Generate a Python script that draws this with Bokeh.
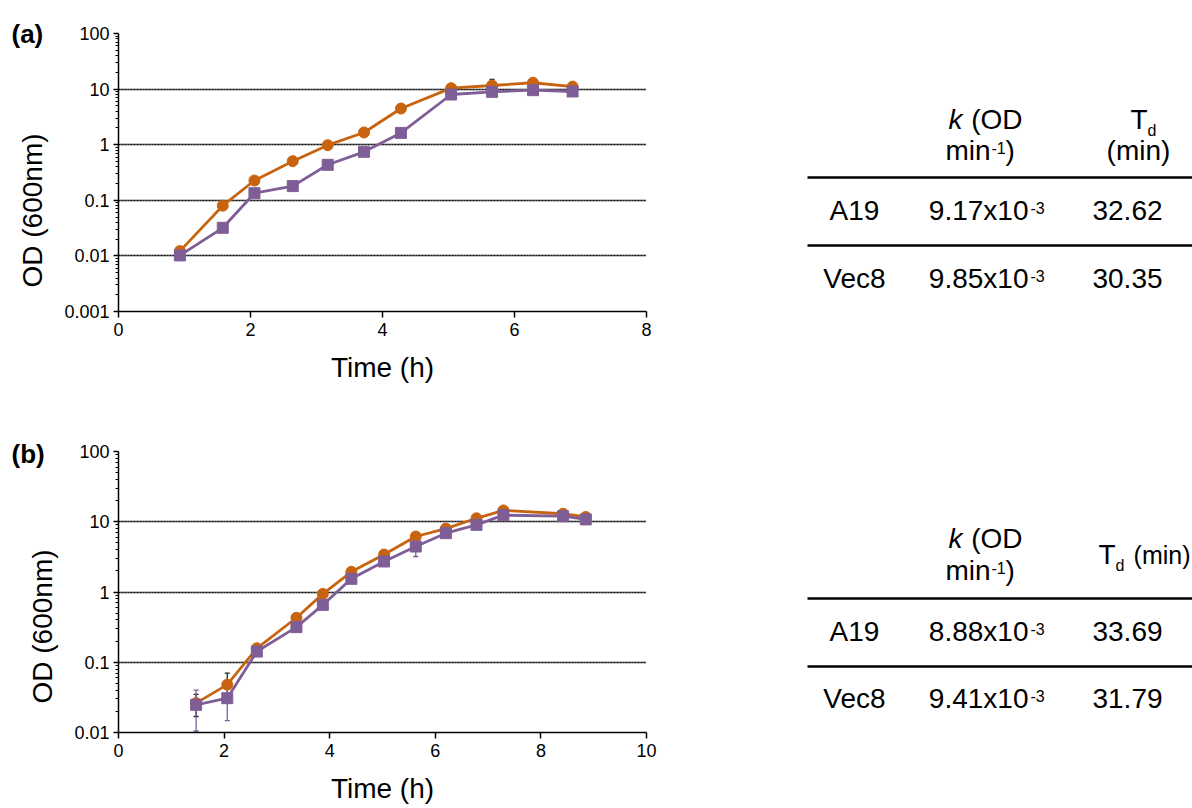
import numpy as np
from bokeh.plotting import figure
from bokeh.models import (FixedTicker, CustomJSTickFormatter, Range1d, Title,
                          ColumnDataSource, Whisker, TeeHead, Grid)
from bokeh.layouts import column, row
from bokeh.embed import file_html
from bokeh.resources import INLINE
from bokeh.core.properties import value

# ---------------- data ----------------
time_a = [0.93, 1.58, 2.06, 2.64, 3.17, 3.72, 4.28, 5.04, 5.66, 6.28, 6.88]
a19_a = [0.0122, 0.080, 0.227, 0.506, 0.98, 1.66, 4.48, 10.4, 11.6, 13.0, 11.1]
a19_a_lo = [0.0122, 0.080, 0.227, 0.506, 0.98, 1.66, 4.48, 10.4, 11.6, 13.0, 11.1]
a19_a_hi = [0.0122, 0.080, 0.227, 0.506, 0.98, 1.66, 4.48, 10.4, 15.0, 13.0, 11.1]
vec8_a = [0.0102, 0.032, 0.134, 0.18, 0.435, 0.745, 1.63, 8.0, 8.93, 9.57, 9.06]
vec8_a_lo = [0.0102, 0.032, 0.134, 0.18, 0.435, 0.66, 1.63, 8.0, 8.93, 9.57, 9.06]
vec8_a_hi = [0.0102, 0.032, 0.134, 0.18, 0.435, 0.84, 1.63, 8.0, 8.93, 9.57, 9.06]

time_b = [1.47, 2.06, 2.62, 3.37, 3.87, 4.41, 5.03, 5.63, 6.20, 6.78, 7.29, 8.42, 8.85]
a19_b = [0.0262, 0.048, 0.158, 0.43, 0.94, 1.94, 3.42, 6.17, 8.0, 11.2, 14.5, 13.0, 11.7]
a19_b_lo = [0.0169, 0.036, 0.158, 0.43, 0.94, 1.94, 3.42, 6.17, 8.0, 11.2, 14.5, 13.0, 11.7]
a19_b_hi = [0.035, 0.070, 0.158, 0.43, 0.94, 1.94, 3.42, 6.17, 8.0, 11.2, 14.5, 13.0, 11.7]
vec8_b = [0.0248, 0.0308, 0.142, 0.316, 0.656, 1.54, 2.72, 4.44, 6.88, 9.04, 12.4, 12.0, 10.8]
vec8_b_lo = [0.0105, 0.0148, 0.142, 0.28, 0.58, 1.54, 2.72, 3.2, 6.2, 8.2, 12.4, 12.0, 10.8]
vec8_b_hi = [0.040, 0.045, 0.142, 0.35, 0.74, 1.54, 2.72, 5.8, 7.6, 9.9, 12.4, 12.0, 10.8]

x_ticks_a = [0, 2, 4, 6, 8]
x_ticks_b = [0, 2, 4, 6, 8, 10]
y_ticks_a = [0.001, 0.01, 0.1, 1, 10, 100]
y_ticks_b = [0.01, 0.1, 1, 10, 100]

strains = ["A19", "Vec8"]
k_a = ["9.17x10", "9.85x10"]
td_a = ["32.62", "30.35"]
k_b = ["8.88x10", "9.41x10"]
td_b = ["33.69", "31.79"]
k_exp = "-3"

ORANGE = "#C8640F"
PURPLE = "#7F5E97"
FONT = "Liberation Sans"

FRAME_L, FRAME_R = 118, 646   # page x of plot frames
PANEL_W = 798
TOTAL_W = 1192


def minor_ticks(decades):
    out = []
    for d in decades[:-1]:
        for m in range(2, 10):
            out.append(round(d * m, 6))
    return out


def make_panel(t, s1, s1lo, s1hi, s2, s2lo, s2hi, xticks, yticks, height,
               top, bottom, tag, tag_standoff, ylab_offset):
    p = figure(width=PANEL_W, height=height, x_range=Range1d(0, xticks[-1]),
               y_range=Range1d(yticks[0], yticks[-1]), y_axis_type="log",
               output_backend="svg", toolbar_location=None,
               min_border_left=FRAME_L, min_border_right=PANEL_W - FRAME_R,
               min_border_top=top, min_border_bottom=bottom)
    p.outline_line_color = None
    p.background_fill_color = "white"
    p.border_fill_color = "white"
    p.xgrid.visible = False
    p.ygrid.ticker = FixedTicker(ticks=yticks)
    p.ygrid.grid_line_color = "#8c8c8c"
    p.ygrid.grid_line_width = 2
    g2 = Grid(dimension=1, ticker=FixedTicker(ticks=yticks),
              grid_line_color="#111111", grid_line_dash="2 1", grid_line_width=1)
    p.add_layout(g2)

    # panel tag as a left-aligned title pulled left and down
    p.title.text = tag
    p.title.align = "left"
    p.title.offset = 11 - FRAME_L
    p.title.standoff = tag_standoff
    p.title.vertical_align = "bottom"
    p.title.text_font = FONT
    p.title.text_font_size = "26px"
    p.title.text_font_style = "bold"
    p.title.text_color = "black"

    # axes
    p.xaxis.ticker = FixedTicker(ticks=xticks, minor_ticks=[])
    p.xaxis.major_tick_out = 6
    p.xaxis.major_tick_in = 0
    p.xaxis.minor_tick_out = 0
    p.xaxis.major_label_standoff = 5
    p.xaxis.axis_label = "Time (h)"
    p.xaxis.axis_label_text_font = FONT
    p.xaxis.axis_label_text_font_size = "28px"
    p.xaxis.axis_label_text_font_style = "normal"
    p.xaxis.axis_label_text_color = "black"
    p.xaxis.axis_label_standoff = 13

    p.yaxis.ticker = FixedTicker(ticks=yticks, minor_ticks=minor_ticks(yticks))
    p.yaxis.formatter = CustomJSTickFormatter(code="return tick.toString();")
    p.yaxis.major_tick_out = 5
    p.yaxis.major_tick_in = 0
    p.yaxis.minor_tick_out = 3
    p.yaxis.minor_tick_in = 0
    p.yaxis.major_label_standoff = 4

    for ax in (p.xaxis, p.yaxis):
        ax.major_label_text_font = FONT
        ax.major_label_text_font_size = "18px"
        ax.major_label_text_color = "black"
        ax.axis_line_color = "black"
        ax.axis_line_width = 1.5
        ax.major_tick_line_color = "black"
        ax.major_tick_line_width = 1.5
        ax.minor_tick_line_color = "black"

    # y label: a title on the left side, shifted down like the reference
    ylab = Title(text="OD (600nm)", align="left", offset=ylab_offset,
                 vertical_align="middle", standoff=26, text_font=FONT,
                 text_font_size="28px", text_font_style="normal", text_color="black")
    p.add_layout(ylab, "left")

    # series 1 (orange, circles)
    p.line(t, s1, line_color=ORANGE, line_width=2.8)
    p.scatter(t, s1, marker="circle", size=11, fill_color=ORANGE, line_color=ORANGE)
    src1 = ColumnDataSource(dict(x=t, lo=s1lo, hi=s1hi))
    p.add_layout(Whisker(base="x", lower="lo", upper="hi", source=src1,
                         line_color="#222222", line_width=1.3,
                         upper_head=TeeHead(size=5, line_color="#222222", line_width=1.3),
                         lower_head=TeeHead(size=5, line_color="#222222", line_width=1.3)))
    # series 2 (purple, squares)
    p.line(t, s2, line_color=PURPLE, line_width=2.8)
    p.scatter(t, s2, marker="square", size=11, fill_color=PURPLE, line_color=PURPLE)
    src2 = ColumnDataSource(dict(x=t, lo=s2lo, hi=s2hi))
    p.add_layout(Whisker(base="x", lower="lo", upper="hi", source=src2,
                         line_color=PURPLE, line_width=1.3,
                         upper_head=TeeHead(size=5, line_color=PURPLE, line_width=1.3),
                         lower_head=TeeHead(size=5, line_color=PURPLE, line_width=1.3)))
    return p


def make_table(frame_top, frame_bot, height, top, bottom, header_rows, row_y, line_y,
               k_vals, td_vals, td_single_line):
    t = figure(width=TOTAL_W - PANEL_W, height=height,
               x_range=Range1d(PANEL_W, TOTAL_W),
               y_range=Range1d(frame_bot, frame_top), output_backend="svg",
               toolbar_location=None, min_border_left=0, min_border_right=0,
               min_border_top=top, min_border_bottom=bottom,
               x_axis_location=None, y_axis_location=None)
    t.xgrid.visible = False
    t.ygrid.visible = False
    t.outline_line_color = None
    f = value(FONT)
    fs = "28px"
    h1, h2 = header_rows
    # header: k (OD / min^-1)
    t.text(x=[948], y=[h1], text=["k"], text_font=f, text_font_size=fs,
           text_font_style="italic", text_align="left", text_baseline="middle")
    t.text(x=[1022], y=[h1], text=["(OD"], text_font=f, text_font_size=fs,
           text_align="right", text_baseline="middle")
    t.text(x=[990], y=[h2], text=["min"], text_font=f, text_font_size=fs,
           text_align="right", text_baseline="middle")
    t.text(x=[991], y=[h2 - 3], text=["-1"], text_font=f, text_font_size="16px",
           text_align="left", text_baseline="alphabetic")
    t.text(x=[1005], y=[h2], text=[")"], text_font=f, text_font_size=fs,
           text_align="left", text_baseline="middle")
    # header: Td
    if td_single_line:
        ty = (h1 + h2) / 2
        t.text(x=[1115], y=[ty], text=["T"], text_font=f, text_font_size=fs,
               text_align="right", text_baseline="middle")
        t.text(x=[1115], y=[ty + 11], text=["d"], text_font=f, text_font_size="16px",
               text_align="left", text_baseline="alphabetic")
        t.text(x=[1190], y=[ty], text=["(min)"], text_font=f, text_font_size="25px",
               text_align="right", text_baseline="middle")
    else:
        t.text(x=[1147], y=[h1], text=["T"], text_font=f, text_font_size=fs,
               text_align="right", text_baseline="middle")
        t.text(x=[1147], y=[h1 + 11], text=["d"], text_font=f, text_font_size="16px",
               text_align="left", text_baseline="alphabetic")
        t.text(x=[1138], y=[h2], text=["(min)"], text_font=f, text_font_size=fs,
               text_align="center", text_baseline="middle")
    # rules
    t.segment(x0=[807, 807], y0=line_y, x1=[TOTAL_W, TOTAL_W], y1=line_y,
              line_color="black", line_width=2.6)
    # rows
    t.text(x=[854, 854], y=row_y, text=strains, text_font=f, text_font_size=fs,
           text_align="center", text_baseline="middle")
    t.text(x=[1028, 1028], y=row_y, text=k_vals, text_font=f, text_font_size=fs,
           text_align="right", text_baseline="middle")
    t.text(x=[1030, 1030], y=[y - 3 for y in row_y], text=[k_exp, k_exp], text_font=f,
           text_font_size="16px", text_align="left", text_baseline="alphabetic")
    t.text(x=[1127, 1127], y=row_y, text=td_vals, text_font=f, text_font_size=fs,
           text_align="center", text_baseline="middle")
    return t


# panel (a): page 0..420, frame 33..311 ; panel (b): page 420..808, frame 451..732
HA, HB = 420, 388
fa = make_panel(time_a, a19_a, a19_a_lo, a19_a_hi, vec8_a, vec8_a_lo, vec8_a_hi,
                x_ticks_a, y_ticks_a, HA, 33, HA - 311, "(a)", -30, 24)
fb = make_panel(time_b, a19_b, a19_b_lo, a19_b_hi, vec8_b, vec8_b_lo, vec8_b_hi,
                x_ticks_b, y_ticks_b, HB, 451 - HA, HA + HB - 732, "(b)", -34, 29)

ta = make_table(33, 311, HA, 33, HA - 311, (119, 150), [210, 278], [177, 245],
                k_a, td_a, False)
tb = make_table(451, 732, HB, 451 - HA, HA + HB - 732, (538, 570), [631, 698],
                [598, 666], k_b, td_b, True)

layout = column(row(fa, ta), row(fb, tb))
open("out.html", "w").write(file_html(layout, INLINE, title="Growth curves"))
